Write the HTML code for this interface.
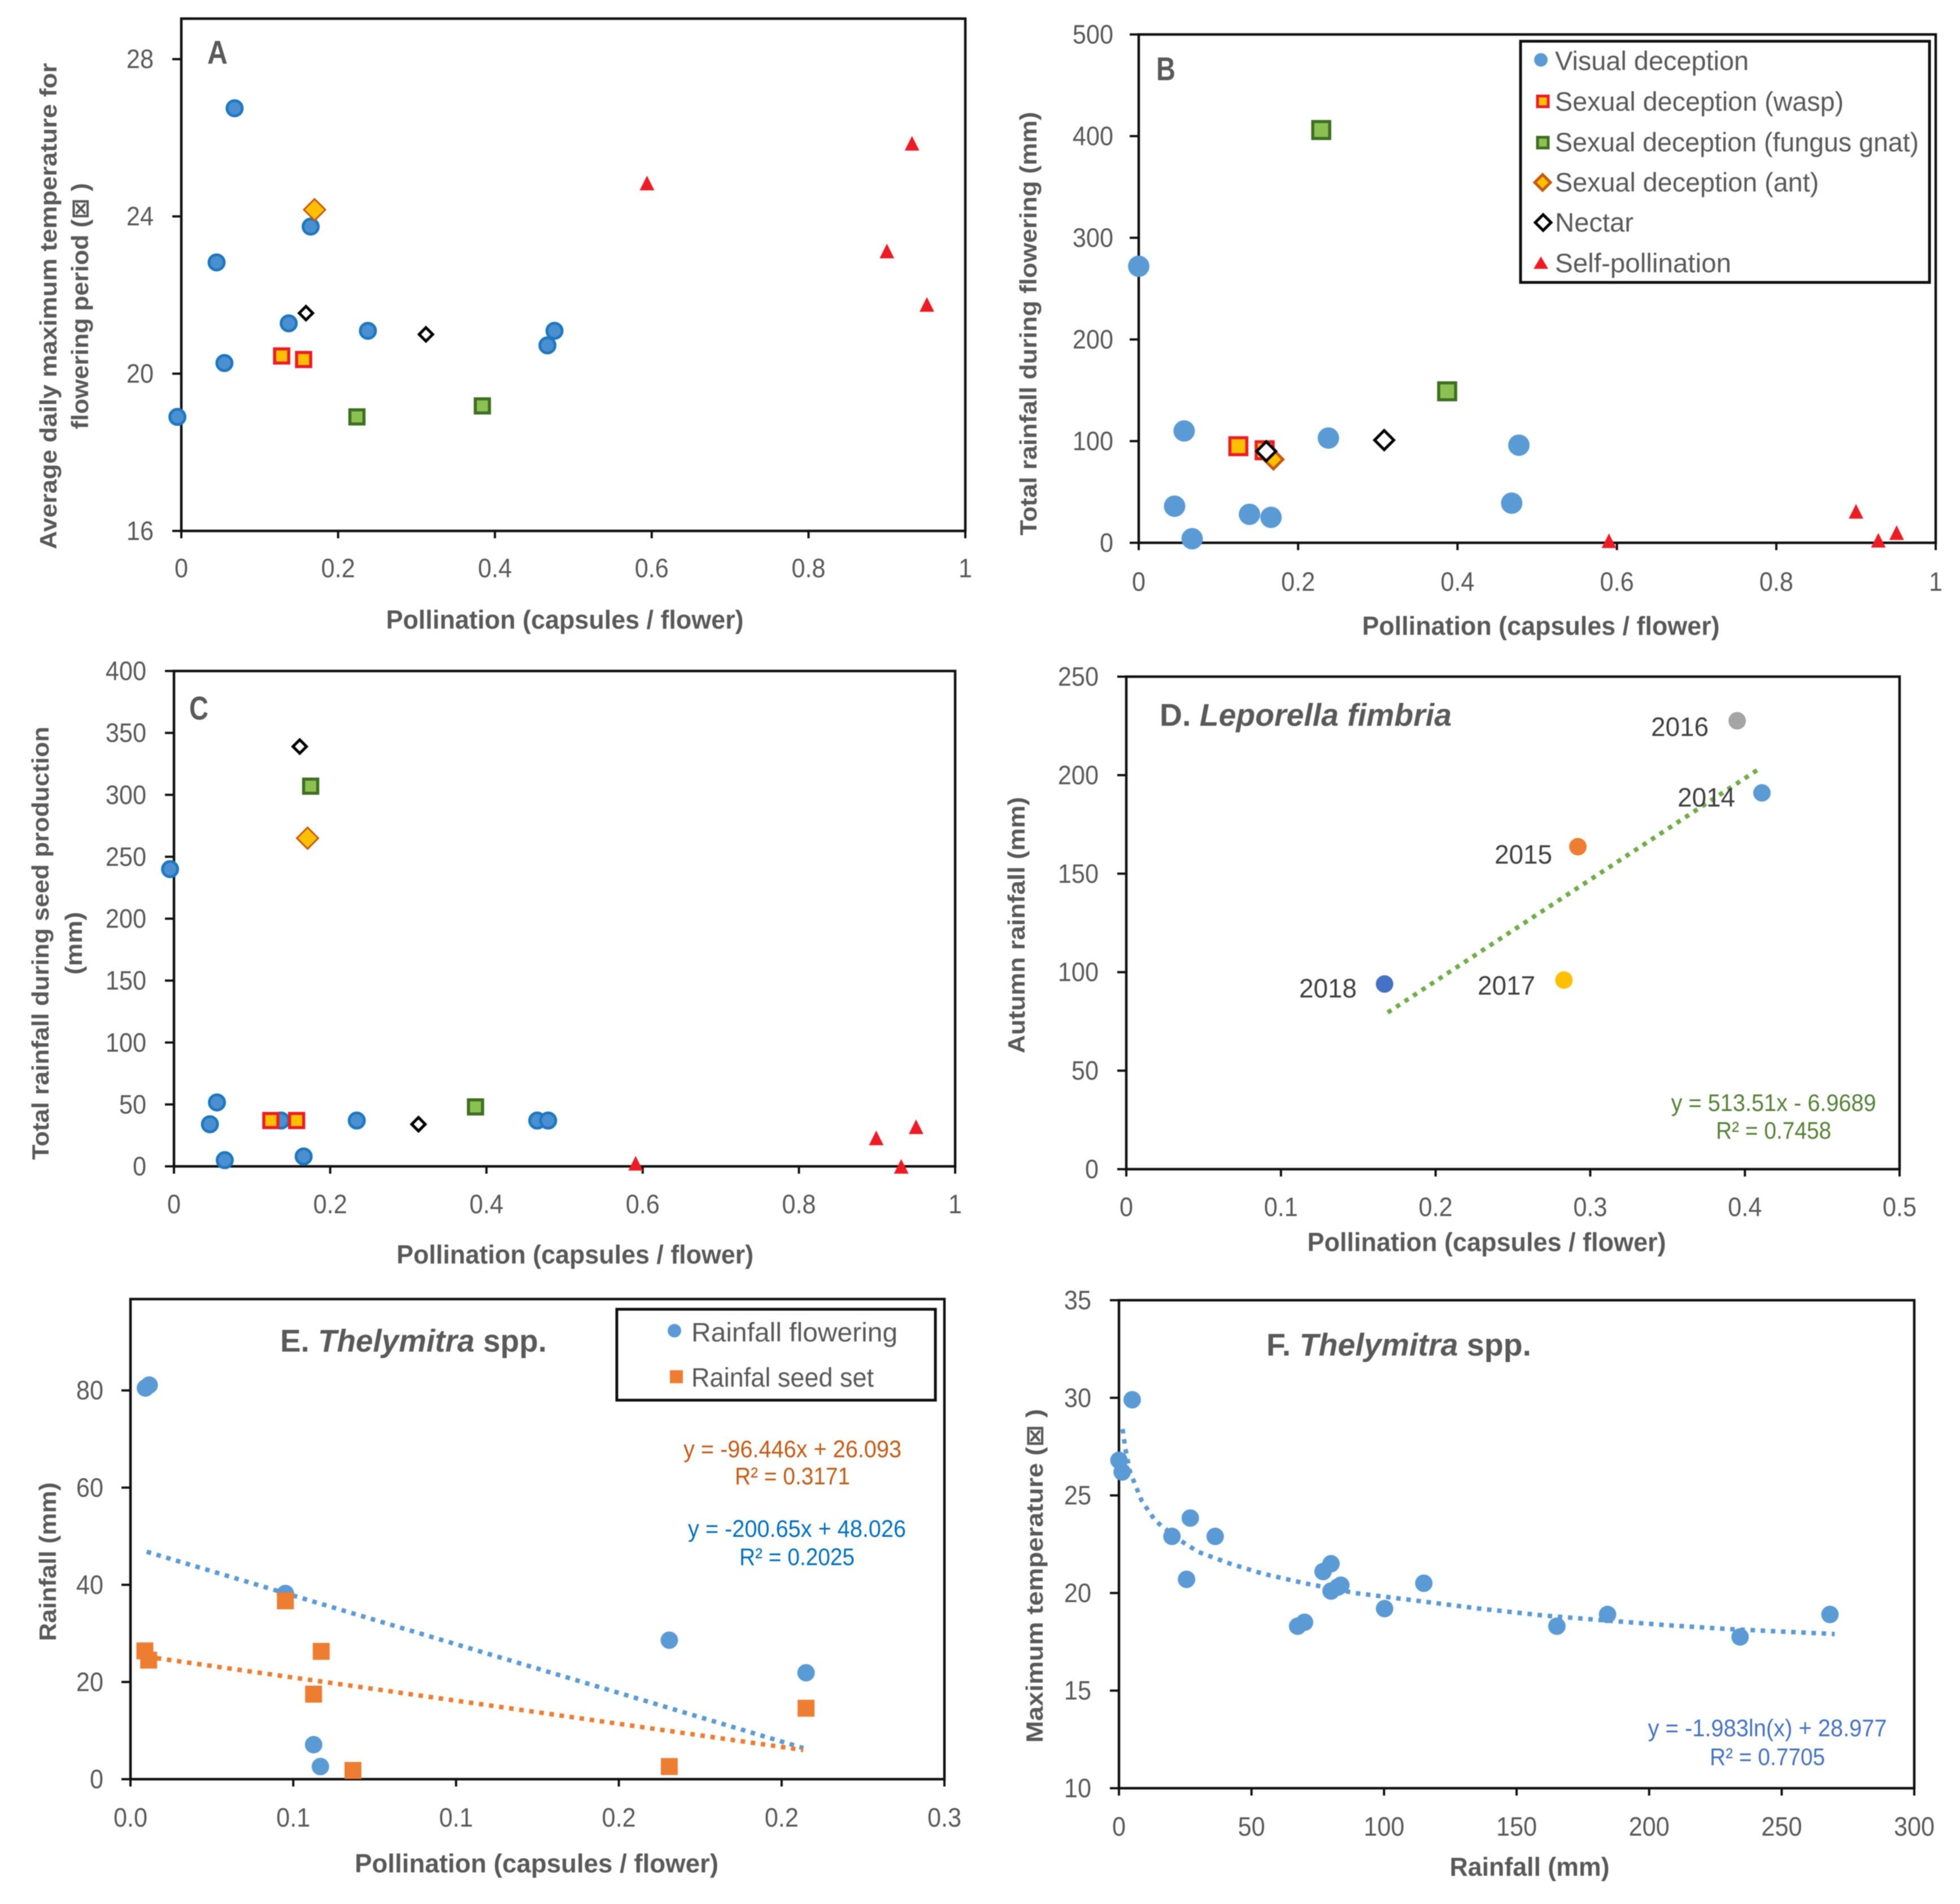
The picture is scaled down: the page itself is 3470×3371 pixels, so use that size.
<!DOCTYPE html>
<html lang="en">
<head>
<meta charset="utf-8">
<title>Pollination and climate scatter plots</title>
<style>
html,body{margin:0;padding:0;background:#fff}
svg{display:block;filter:blur(0.8px)}
text{font-family:"Liberation Sans","DejaVu Sans",sans-serif;fill:#595959}
.axt{font-weight:700;font-size:42px}
.axh{font-weight:700;font-size:46px}
.tick{font-size:47px;text-anchor:middle}
.ytick{font-size:47px;text-anchor:end}
.leg{font-size:47px}
.mid{text-anchor:middle}
</style>
</head>
<body>
<svg id="fig" xmlns="http://www.w3.org/2000/svg" width="3470" height="3371" viewBox="0 0 3470 3371">
<rect x="0" y="0" width="3470" height="3371" fill="#fff"/>
<g id="pA"></g>
<g id="pB"></g>
<g id="pC"></g>
<g id="pD"></g>
<g id="pE"></g>
<g id="pF"></g>

<g>
<text x="385" y="113" class="mid" font-size="58" font-weight="700" textLength="36" lengthAdjust="spacingAndGlyphs">A</text>
<text class="axh mid" x="1000" y="1113" textLength="633" lengthAdjust="spacingAndGlyphs">Pollination (capsules / flower)</text>
<text class="axt mid" transform="translate(100,542) rotate(-90)" textLength="861" lengthAdjust="spacingAndGlyphs">Average daily maximum temperature for</text>
<text class="axt mid" transform="translate(156,542) rotate(-90)" textLength="436" lengthAdjust="spacingAndGlyphs">flowering period (⊠ )</text>

<text x="2064" y="142" class="mid" font-size="58" font-weight="700" textLength="34" lengthAdjust="spacingAndGlyphs">B</text>
<text class="axh mid" x="2728" y="1124" textLength="633" lengthAdjust="spacingAndGlyphs">Pollination (capsules / flower)</text>
<text class="axt mid" transform="translate(1835,573) rotate(-90)" textLength="750" lengthAdjust="spacingAndGlyphs">Total rainfall during flowering (mm)</text>

<text x="352" y="1274" class="mid" font-size="58" font-weight="700" textLength="34" lengthAdjust="spacingAndGlyphs">C</text>
<text class="axh mid" x="1018" y="2237" textLength="632" lengthAdjust="spacingAndGlyphs">Pollination (capsules / flower)</text>
<text class="axt mid" transform="translate(86,1670) rotate(-90)" textLength="767" lengthAdjust="spacingAndGlyphs">Total rainfall during seed production</text>
<text class="axt mid" transform="translate(145,1670) rotate(-90)" textLength="111" lengthAdjust="spacingAndGlyphs">(mm)</text>

<text x="2053" y="1285" font-size="56" font-weight="700" textLength="517" lengthAdjust="spacingAndGlyphs">D. <tspan font-style="italic">Leporella fimbria</tspan></text>
<text class="axh mid" x="2632" y="2215" textLength="635" lengthAdjust="spacingAndGlyphs">Pollination (capsules / flower)</text>
<text class="axt mid" transform="translate(1814,1638) rotate(-90)" textLength="454" lengthAdjust="spacingAndGlyphs">Autumn rainfall (mm)</text>
<text x="2974" y="1303" class="mid" font-size="47" textLength="102" lengthAdjust="spacingAndGlyphs" style="fill:#404040">2016</text>
<text x="3021" y="1428" class="mid" font-size="47" textLength="102" lengthAdjust="spacingAndGlyphs" style="fill:#404040">2014</text>
<text x="2697" y="1529" class="mid" font-size="47" textLength="102" lengthAdjust="spacingAndGlyphs" style="fill:#404040">2015</text>
<text x="2351" y="1766" class="mid" font-size="47" textLength="102" lengthAdjust="spacingAndGlyphs" style="fill:#404040">2018</text>
<text x="2667" y="1761" class="mid" font-size="47" textLength="102" lengthAdjust="spacingAndGlyphs" style="fill:#404040">2017</text>
<text x="3140" y="1967" class="mid" font-size="43" textLength="363" lengthAdjust="spacingAndGlyphs" style="fill:#548235">y = 513.51x - 6.9689</text>
<text x="3140" y="2016" class="mid" font-size="43" textLength="204" lengthAdjust="spacingAndGlyphs" style="fill:#548235">R² = 0.7458</text>

<text x="496" y="2393" font-size="56" font-weight="700" textLength="472" lengthAdjust="spacingAndGlyphs">E. <tspan font-style="italic">Thelymitra</tspan> spp.</text>
<text class="axh mid" x="950" y="3315" textLength="644" lengthAdjust="spacingAndGlyphs">Pollination (capsules  / flower)</text>
<text class="axt mid" transform="translate(99,2765) rotate(-90)" textLength="281" lengthAdjust="spacingAndGlyphs">Rainfall (mm)</text>
<text x="1403" y="2580" class="mid" font-size="43" textLength="386" lengthAdjust="spacingAndGlyphs" style="fill:#c55a11">y = -96.446x + 26.093</text>
<text x="1403" y="2628" class="mid" font-size="43" textLength="204" lengthAdjust="spacingAndGlyphs" style="fill:#c55a11">R² = 0.3171</text>
<text x="1411" y="2721" class="mid" font-size="43" textLength="386" lengthAdjust="spacingAndGlyphs" style="fill:#0070c0">y = -200.65x + 48.026</text>
<text x="1411" y="2771" class="mid" font-size="43" textLength="204" lengthAdjust="spacingAndGlyphs" style="fill:#0070c0">R² = 0.2025</text>

<text x="2242" y="2400" font-size="56" font-weight="700" textLength="469" lengthAdjust="spacingAndGlyphs">F. <tspan font-style="italic">Thelymitra</tspan> spp.</text>
<text class="axh mid" x="2708" y="3321" textLength="283" lengthAdjust="spacingAndGlyphs">Rainfall (mm)</text>
<text class="axt mid" transform="translate(1846,2790) rotate(-90)" textLength="591" lengthAdjust="spacingAndGlyphs">Maximum temperature  (⊠ )</text>
<text x="3129" y="3074" class="mid" font-size="43" textLength="423" lengthAdjust="spacingAndGlyphs" style="fill:#4472c4">y = -1.983ln(x) + 28.977</text>
<text x="3129" y="3125" class="mid" font-size="43" textLength="204" lengthAdjust="spacingAndGlyphs" style="fill:#4472c4">R² = 0.7705</text>
</g>

<g>
<rect x="2692" y="73" width="724" height="427" fill="#fff" stroke="#111" stroke-width="5"/>
<circle cx="2728" cy="106" r="12" fill="#5b9bd5"/>
<text class="leg" x="2753" y="124" textLength="343" lengthAdjust="spacingAndGlyphs">Visual deception</text>
<rect x="2722" y="170" width="19" height="19" fill="#ffc000" stroke="#ee1c25" stroke-width="5"/>
<text class="leg" x="2753" y="196" textLength="511" lengthAdjust="spacingAndGlyphs">Sexual deception (wasp)</text>
<rect x="2722" y="243" width="19" height="19" fill="#8cc152" stroke="#3f6f22" stroke-width="5"/>
<text class="leg" x="2753" y="268" textLength="644" lengthAdjust="spacingAndGlyphs">Sexual deception (fungus gnat)</text>
<path d="M2731 309 L2745 323 L2731 337 L2717 323 Z" fill="#ffc000" stroke="#c55a11" stroke-width="5"/>
<text class="leg" x="2753" y="339" textLength="467" lengthAdjust="spacingAndGlyphs">Sexual deception (ant)</text>
<path d="M2732 380 L2746 394 L2732 408 L2718 394 Z" fill="#fff" stroke="#000" stroke-width="5"/>
<text class="leg" x="2753" y="410" textLength="139" lengthAdjust="spacingAndGlyphs">Nectar</text>
<path d="M2728 454 L2741 476 L2715 476 Z" fill="#ed1c24"/>
<text class="leg" x="2753" y="482" textLength="312" lengthAdjust="spacingAndGlyphs">Self-pollination</text>
</g>

<g>
<rect x="1092" y="2318" width="564" height="161" fill="#fff" stroke="#111" stroke-width="5"/>
<circle cx="1194" cy="2356" r="12" fill="#5b9bd5"/>
<text class="leg" x="1224" y="2375" textLength="365" lengthAdjust="spacingAndGlyphs">Rainfall flowering</text>
<rect x="1186" y="2426" width="23" height="23" fill="#ed7d31"/>
<text class="leg" x="1224" y="2455" textLength="323" lengthAdjust="spacingAndGlyphs">Rainfal seed set</text>
</g>
</svg>

<script>
// ---- Panel A data ----
const aXTicks = [0, 0.2, 0.4, 0.6, 0.8, 1];
const aXLabels = ['0', '0.2', '0.4', '0.6', '0.8', '1'];
const aYTicks = [16, 20, 24, 28];
const aYLabels = ['16', '20', '24', '28'];
const aVisualX = [0.068, 0.045, 0.165, 0.137, 0.238, 0.055, -0.005, 0.476, 0.467];
const aVisualY = [26.75, 22.83, 23.74, 21.28, 21.09, 20.27, 18.9, 21.09, 20.72];
const aWaspX = [0.128, 0.156];
const aWaspY = [20.45, 20.36];
const aGnatX = [0.224, 0.384];
const aGnatY = [18.9, 19.18];
const aAntX = [0.17];
const aAntY = [24.17];
const aNectarX = [0.159, 0.312];
const aNectarY = [21.54, 21.0];
const aSelfX = [0.594, 0.932, 0.9, 0.951];
const aSelfY = [24.85, 25.86, 23.12, 21.76];

// ---- Panel B data ----
const bXTicks = [0, 0.2, 0.4, 0.6, 0.8, 1];
const bXLabels = ['0', '0.2', '0.4', '0.6', '0.8', '1'];
const bYTicks = [0, 100, 200, 300, 400, 500];
const bYLabels = ['0', '100', '200', '300', '400', '500'];
const bVisualX = [0, 0.057, 0.045, 0.067, 0.139, 0.166, 0.238, 0.477, 0.468];
const bVisualY = [272, 110, 36, 4, 28, 25, 103, 96, 39];
const bWaspX = [0.125, 0.158];
const bWaspY = [95, 91];
const bGnatX = [0.229, 0.387];
const bGnatY = [406, 149];
const bAntX = [0.169];
const bAntY = [82];
const bNectarX = [0.16, 0.308];
const bNectarY = [90, 101];
const bSelfX = [0.59, 0.9, 0.928, 0.951];
const bSelfY = [2, 31, 2.5, 10];

// ---- Panel C data ----
const cXTicks = [0, 0.2, 0.4, 0.6, 0.8, 1];
const cXLabels = ['0', '0.2', '0.4', '0.6', '0.8', '1'];
const cYTicks = [0, 50, 100, 150, 200, 250, 300, 350, 400];
const cYLabels = ['0', '50', '100', '150', '200', '250', '300', '350', '400'];
const cVisualX = [-0.005, 0.055, 0.046, 0.065, 0.137, 0.166, 0.234, 0.465, 0.479];
const cVisualY = [240, 51.6, 34, 5, 37, 8, 37, 37, 37];
const cWaspX = [0.124, 0.157];
const cWaspY = [37, 37];
const cGnatX = [0.175, 0.386];
const cGnatY = [307, 48];
const cAntX = [0.171];
const cAntY = [265];
const cNectarX = [0.161, 0.313];
const cNectarY = [339, 34];
const cSelfX = [0.591, 0.899, 0.931, 0.95];
const cSelfY = [2.5, 23, 0, 32];

// ---- Panel D data ----
const dXTicks = [0, 0.1, 0.2, 0.3, 0.4, 0.5];
const dXLabels = ['0', '0.1', '0.2', '0.3', '0.4', '0.5'];
const dYTicks = [0, 50, 100, 150, 200, 250];
const dYLabels = ['0', '50', '100', '150', '200', '250'];
const dYears = ['2014', '2015', '2016', '2017', '2018'];
const dPollination = [0.411, 0.292, 0.395, 0.283, 0.167];
const dRainfall = [191, 163.7, 227.6, 96, 94];
const dColors = ['#5b9bd5', '#ed7d31', '#a5a5a5', '#ffc000', '#4472c4'];
const dTrendX = [0.169, 0.41];
const dTrendY = [79.5, 203.6];

// ---- Panel E data ----
const eXTicks = [0, 0.06, 0.12, 0.18, 0.24, 0.3];
const eXLabels = ['0.0', '0.1', '0.1', '0.2', '0.2', '0.3'];
const eYTicks = [0, 20, 40, 60, 80];
const eYLabels = ['0', '20', '40', '60', '80'];
const eFlowerX = [0.0055, 0.0069, 0.0571, 0.0675, 0.07, 0.1986, 0.249];
const eFlowerY = [80.5, 81.1, 38.2, 7.1, 2.6, 28.6, 21.9];
const eSeedX = [0.0053, 0.0067, 0.0571, 0.0703, 0.0675, 0.082, 0.1986, 0.249];
const eSeedY = [26.4, 24.5, 36.7, 26.3, 17.5, 1.8, 2.6, 14.6];
const eFlowerTrendX = [0.006, 0.248];
const eFlowerTrendY = [46.8, 6.4];
const eSeedTrendX = [0.006, 0.248];
const eSeedTrendY = [25.2, 6.0];

// ---- Panel F data ----
const fXTicks = [0, 50, 100, 150, 200, 250, 300];
const fXLabels = ['0', '50', '100', '150', '200', '250', '300'];
const fYTicks = [10, 15, 20, 25, 30, 35];
const fYLabels = ['10', '15', '20', '25', '30', '35'];
const fRain = [5, 0, 1.2, 20, 26.9, 36.3, 25.5, 77, 80, 80, 82.5, 83.7, 67.4, 70, 100.2, 115, 165.2, 184.3, 234.3, 268.2];
const fTemp = [29.9, 26.8, 26.2, 22.9, 23.84, 22.9, 20.7, 21.1, 21.5, 20.1, 20.3, 20.4, 18.3, 18.5, 19.2, 20.5, 18.3, 18.9, 17.75, 18.9];
const fTrendX = [1.4, 2.4, 4.2, 8.5, 13.7, 23, 30, 42, 54, 70, 89, 112.7, 136, 160, 183, 207, 230.5, 254, 270];
const fTrendY = [28.4, 27.4, 26.2, 24.75, 23.7, 22.7, 22.1, 21.5, 21, 20.5, 20, 19.6, 19.2, 18.85, 18.6, 18.35, 18.15, 18, 17.9];

const NS = 'http://www.w3.org/2000/svg';

function makeScale(left, right, top, bottom, x0, x1, y0, y1) {
  return {
    left: left, right: right, top: top, bottom: bottom,
    x: function (v) { return left + (v - x0) / (x1 - x0) * (right - left); },
    y: function (v) { return bottom - (v - y0) / (y1 - y0) * (bottom - top); }
  };
}

function drawAxes(g, s, xTicks, xLabels, yTicks, yLabels, xLabelY, yLabelX) {
  const frame = document.createElementNS(NS, 'rect');
  
  
  frame.setAttribute('x', s.left);
  frame.setAttribute('y', s.top);
  frame.setAttribute('width', s.right - s.left);
  frame.setAttribute('height', s.bottom - s.top);
  frame.setAttribute('fill', 'none');
  frame.setAttribute('stroke', '#111');
  frame.setAttribute('stroke-width', '4.5');
  g.appendChild(frame);
  xTicks.forEach(function (t, i) {
    const tick = document.createElementNS(NS, 'line');
    
    
    tick.setAttribute('x1', s.x(t));
    tick.setAttribute('x2', s.x(t));
    tick.setAttribute('y1', s.bottom);
    tick.setAttribute('y2', s.bottom + 13);
    tick.setAttribute('stroke', '#111');
    tick.setAttribute('stroke-width', '4');
    g.appendChild(tick);
    const label = document.createElementNS(NS, 'text');
    
    
    label.setAttribute('class', 'tick');
    label.setAttribute('transform', 'translate(' + s.x(t) + ',' + (xLabelY + 16) + ') scale(0.92,1)');
    label.textContent = xLabels[i];
    g.appendChild(label);
  });
  yTicks.forEach(function (t, i) {
    const tick = document.createElementNS(NS, 'line');
    
    
    tick.setAttribute('x1', s.left - 16);
    tick.setAttribute('x2', s.left);
    tick.setAttribute('y1', s.y(t));
    tick.setAttribute('y2', s.y(t));
    tick.setAttribute('stroke', '#111');
    tick.setAttribute('stroke-width', '4');
    g.appendChild(tick);
    const label = document.createElementNS(NS, 'text');
    
    
    label.setAttribute('class', 'ytick');
    label.setAttribute('transform', 'translate(' + yLabelX + ',' + (s.y(t) + 16) + ') scale(0.92,1)');
    label.textContent = yLabels[i];
    g.appendChild(label);
  });
}

function circles(g, s, xs, ys, name, r, fill, stroke, sw) {
  xs.forEach(function (v, i) {
    const el = document.createElementNS(NS, 'circle');
    
    
    el.setAttribute('cx', s.x(v));
    el.setAttribute('cy', s.y(ys[i]));
    el.setAttribute('r', r);
    el.setAttribute('fill', fill);
    if (stroke) { el.setAttribute('stroke', stroke); el.setAttribute('stroke-width', sw); }
    g.appendChild(el);
  });
}

function squares(g, s, xs, ys, name, size, fill, stroke, sw) {
  xs.forEach(function (v, i) {
    const el = document.createElementNS(NS, 'rect');
    
    
    el.setAttribute('x', s.x(v) - size / 2);
    el.setAttribute('y', s.y(ys[i]) - size / 2);
    el.setAttribute('width', size);
    el.setAttribute('height', size);
    el.setAttribute('fill', fill);
    if (stroke) { el.setAttribute('stroke', stroke); el.setAttribute('stroke-width', sw); }
    g.appendChild(el);
  });
}

function diamonds(g, s, xs, ys, name, half, fill, stroke, sw) {
  xs.forEach(function (v, i) {
    const cx = s.x(v), cy = s.y(ys[i]);
    const el = document.createElementNS(NS, 'path');
    
    
    el.setAttribute('d', 'M' + cx + ' ' + (cy - half) + 'L' + (cx + half) + ' ' + cy + 'L' + cx + ' ' + (cy + half) + 'L' + (cx - half) + ' ' + cy + 'Z');
    el.setAttribute('fill', fill);
    el.setAttribute('stroke', stroke);
    el.setAttribute('stroke-width', sw);
    g.appendChild(el);
  });
}

function triangles(g, s, xs, ys, name, half, fill) {
  xs.forEach(function (v, i) {
    const cx = s.x(v), cy = s.y(ys[i]);
    const el = document.createElementNS(NS, 'path');
    
    
    el.setAttribute('d', 'M' + cx + ' ' + (cy - half) + 'L' + (cx + half) + ' ' + (cy + half) + 'L' + (cx - half) + ' ' + (cy + half) + 'Z');
    el.setAttribute('fill', fill);
    g.appendChild(el);
  });
}

function trend(g, s, xs, ys, name, color) {
  const el = document.createElementNS(NS, 'polyline');
  
  
  el.setAttribute('points', xs.map(function (v, i) { return s.x(v) + ',' + s.y(ys[i]); }).join(' '));
  el.setAttribute('fill', 'none');
  el.setAttribute('stroke', color);
  el.setAttribute('stroke-width', '8');
  el.setAttribute('stroke-dasharray', '8 10');
  g.appendChild(el);
}

const BLUE_FILL = '#4a90d0', BLUE_EDGE = '#1f78c0', GOLD = '#ffc000', RED = '#ee1c25';
const GREEN = '#8cc152', DGREEN = '#3f6f22', ANT_EDGE = '#c55a11', SELF = '#ed1c24', PLAIN = '#5b9bd5', ORANGE = '#ed7d31';

// Panel A
const sA = makeScale(321, 1709, 33, 940, 0, 1, 16, 29.03);
const gA = document.getElementById('pA');
drawAxes(gA, sA, aXTicks, aXLabels, aYTicks, aYLabels, 1006, 272);
circles(gA, sA, aVisualX, aVisualY, 'visual-deception-point', 13.5, BLUE_FILL, BLUE_EDGE, 5);
squares(gA, sA, aWaspX, aWaspY, 'wasp-deception-point', 25, GOLD, RED, 5.5);
squares(gA, sA, aGnatX, aGnatY, 'fungus-gnat-deception-point', 25, GREEN, DGREEN, 5.5);
diamonds(gA, sA, aAntX, aAntY, 'ant-deception-point', 19, GOLD, ANT_EDGE, 3);
diamonds(gA, sA, aNectarX, aNectarY, 'nectar-point', 12, '#fff', '#000', 5);
triangles(gA, sA, aSelfX, aSelfY, 'self-pollination-point', 13, SELF);

// Panel B
const sB = makeScale(2016, 3427, 61, 961, 0, 1, 0, 500);
const gB = document.getElementById('pB');
drawAxes(gB, sB, bXTicks, bXLabels, bYTicks, bYLabels, 1030, 1971);
circles(gB, sB, bVisualX, bVisualY, 'visual-deception-point', 19, PLAIN);
squares(gB, sB, bWaspX, bWaspY, 'wasp-deception-point', 30, GOLD, RED, 5.5);
squares(gB, sB, bGnatX, bGnatY, 'fungus-gnat-deception-point', 30, GREEN, DGREEN, 5.5);
diamonds(gB, sB, bAntX, bAntY, 'ant-deception-point', 17, GOLD, ANT_EDGE, 5);
diamonds(gB, sB, bNectarX, bNectarY, 'nectar-point', 17, '#fff', '#000', 5);
triangles(gB, sB, bSelfX, bSelfY, 'self-pollination-point', 13, SELF);

// Panel C
const sC = makeScale(308, 1691, 1188, 2065, 0, 1, 0, 400);
const gC = document.getElementById('pC');
drawAxes(gC, sC, cXTicks, cXLabels, cYTicks, cYLabels, 2132, 259);
circles(gC, sC, cVisualX, cVisualY, 'visual-deception-point', 13.5, BLUE_FILL, BLUE_EDGE, 5);
squares(gC, sC, cWaspX, cWaspY, 'wasp-deception-point', 25, GOLD, RED, 5.5);
squares(gC, sC, cGnatX, cGnatY, 'fungus-gnat-deception-point', 25, GREEN, DGREEN, 5.5);
diamonds(gC, sC, cAntX, cAntY, 'ant-deception-point', 19, GOLD, ANT_EDGE, 3);
diamonds(gC, sC, cNectarX, cNectarY, 'nectar-point', 12, '#fff', '#000', 5);
triangles(gC, sC, cSelfX, cSelfY, 'self-pollination-point', 13, SELF);

// Panel D
const sD = makeScale(1994, 3363, 1198, 2070, 0, 0.5, 0, 250);
const gD = document.getElementById('pD');
drawAxes(gD, sD, dXTicks, dXLabels, dYTicks, dYLabels, 2137, 1945);
trend(gD, sD, dTrendX, dTrendY, 'rainfall-trendline', '#70ad47');
dYears.forEach(function (year, i) {
  circles(gD, sD, [dPollination[i]], [dRainfall[i]], 'year-point-' + year, 15.5, dColors[i]);
});

// Panel E
const sE = makeScale(231, 1672, 2300, 3150, 0, 0.3, 0, 98.8);
const gE = document.getElementById('pE');
drawAxes(gE, sE, eXTicks, eXLabels, eYTicks, eYLabels, 3218, 183);
trend(gE, sE, eFlowerTrendX, eFlowerTrendY, 'flowering-trendline', PLAIN);
trend(gE, sE, eSeedTrendX, eSeedTrendY, 'seed-set-trendline', ORANGE);
circles(gE, sE, eFlowerX, eFlowerY, 'rainfall-flowering-point', 15.5, PLAIN);
squares(gE, sE, eSeedX, eSeedY, 'rainfall-seed-set-point', 30, ORANGE);

// Panel F
const sF = makeScale(1981, 3389, 2302, 3166, 0, 300, 10, 35);
const gF = document.getElementById('pF');
drawAxes(gF, sF, fXTicks, fXLabels, fYTicks, fYLabels, 3234, 1932);
trend(gF, sF, fTrendX, fTrendY, 'logarithmic-trendline', PLAIN);
circles(gF, sF, fRain, fTemp, 'rainfall-temperature-point', 15.5, PLAIN);
</script>
</body>
</html>
